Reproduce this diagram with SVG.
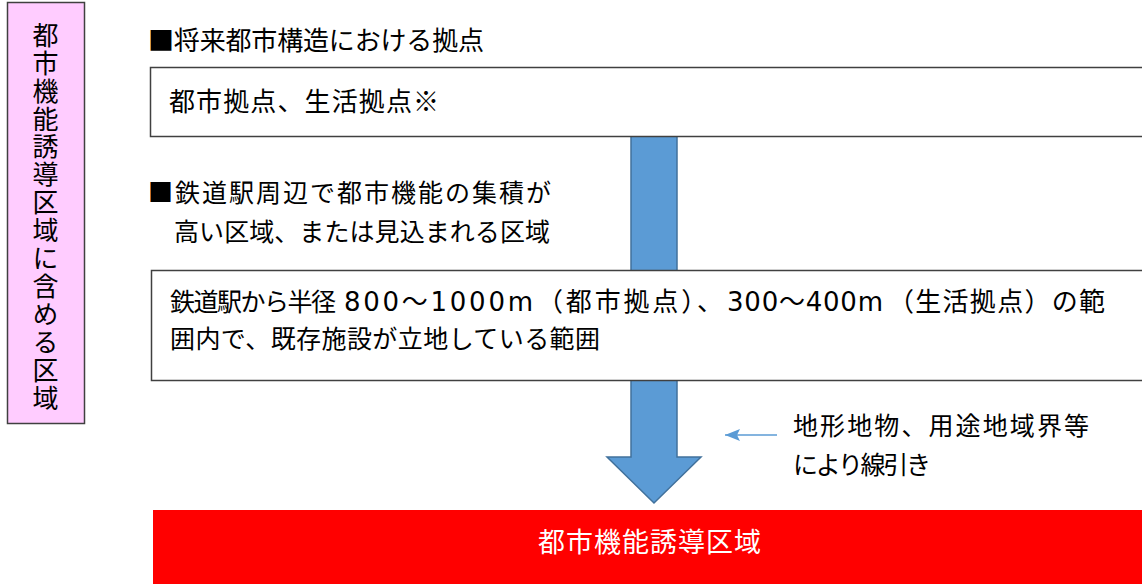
<svg xmlns="http://www.w3.org/2000/svg" width="1142" height="584" viewBox="0 0 1142 584">
<style>
.t{font-family:"Noto Sans CJK JP","Noto Sans",sans-serif;font-size:25px;fill:#000}
.b{font-size:26px}
.box{fill:#fff;stroke:#404040;stroke-width:1.5}
.lat{font-family:"DejaVu Sans","Noto Sans CJK JP",sans-serif;font-size:26px}
</style>
<defs>
<marker id="ah" viewBox="0 0 15 12" refX="15" refY="6" markerWidth="15" markerHeight="12" markerUnits="userSpaceOnUse" orient="auto">
<path d="M0,0 L15,6 L0,12 L3,6 Z" fill="#5B9BD5"/>
</marker>
</defs>
<rect width="1142" height="584" fill="#fff"/>
<g id="side-label">
<rect x="7.5" y="2.5" width="77" height="421" fill="#FFCCFF" stroke="#404040" stroke-width="1.5"/>
<text x="45.5" y="22" class="t" style="writing-mode:vertical-rl;font-size:26px;letter-spacing:1.9px">都市機能誘導区域に含める区域</text>
</g>
<g id="connectors">
<path d="M631,110 L677,110 L677,457 L701,457 L654,503 L607,457 L631,457 Z" fill="#5B9BD5" stroke="#41719C" stroke-width="1.5"/>
<line x1="777" y1="435" x2="725" y2="435" stroke="#5B9BD5" stroke-width="1.5" marker-end="url(#ah)"/>
</g>
<g id="base-points">
<text x="148" y="50" class="t b" textLength="336" lengthAdjust="spacing">■将来都市構造における拠点</text>
<rect x="150.5" y="67.5" width="1000" height="69" class="box"/>
<text x="169" y="111" class="t b" textLength="270" lengthAdjust="spacing">都市拠点、生活拠点※</text>
</g>
<g id="station-area">
<text x="148" y="202" class="t" textLength="403" lengthAdjust="spacing">■鉄道駅周辺で都市機能の集積が</text>
<text x="174" y="241" class="t" textLength="376" lengthAdjust="spacing">高い区域、または見込まれる区域</text>
<rect x="151.5" y="270.5" width="1000" height="110" class="box"/>
<text x="170" y="311" class="t"><tspan textLength="166" lengthAdjust="spacing">鉄道駅から半径</tspan><tspan x="344" class="lat" textLength="189" lengthAdjust="spacing">800～1000m</tspan><tspan x="537" class="b" textLength="186" lengthAdjust="spacing">（都市拠点）、</tspan><tspan x="727" class="lat" textLength="156" lengthAdjust="spacing">300～400m</tspan><tspan x="888" class="b" textLength="217" lengthAdjust="spacing">（生活拠点）の範</tspan></text>
<text x="170" y="348" class="t" textLength="430" lengthAdjust="spacing">囲内で、既存施設が立地している範囲</text>
</g>
<g id="note">
<text x="793" y="435" class="t" textLength="296" lengthAdjust="spacing">地形地物、用途地域界等</text>
<text x="793" y="474" class="t" textLength="138" lengthAdjust="spacing">により線引き</text>
</g>
<g id="result">
<rect x="153" y="510" width="989" height="74" fill="#FF0000"/>
<text x="538" y="552" class="t" style="fill:#fff;font-size:27px" textLength="223" lengthAdjust="spacing">都市機能誘導区域</text>
</g>
</svg>
